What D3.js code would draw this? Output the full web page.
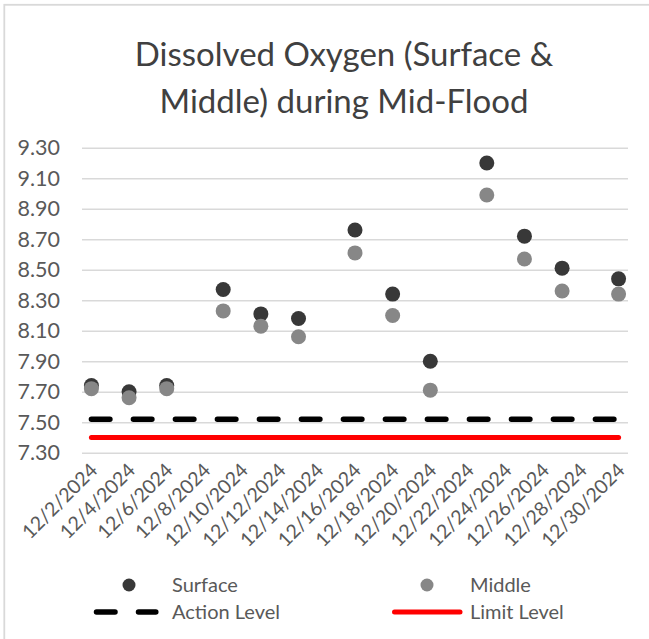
<!DOCTYPE html>
<html>
<head>
<meta charset="utf-8">
<script src="https://cdn.jsdelivr.net/npm/d3@7"></script>
<style>
  html, body { margin: 0; padding: 0; background: #fff; }
  svg { display: block; }
  text { font-family: Lato, "Open Sans", sans-serif; }
</style>
</head>
<body>
<svg id="chart" width="649" height="639"></svg>
<script>
// ---- data ----
const dates = ["2024-12-02","2024-12-04","2024-12-06","2024-12-09","2024-12-11","2024-12-13",
               "2024-12-16","2024-12-18","2024-12-20","2024-12-23","2024-12-25","2024-12-27","2024-12-30"];
const surface = [7.74, 7.70, 7.74, 8.37, 8.21, 8.18, 8.76, 8.34, 7.90, 9.20, 8.72, 8.51, 8.44];
const middle  = [7.72, 7.66, 7.72, 8.23, 8.13, 8.06, 8.61, 8.20, 7.71, 8.99, 8.57, 8.36, 8.34];
const actionLevel = 7.52;
const limitLevel = 7.40;
const yTicks = [7.30, 7.50, 7.70, 7.90, 8.10, 8.30, 8.50, 8.70, 8.90, 9.10, 9.30];
const xTickLabels = ["12/2/2024","12/4/2024","12/6/2024","12/8/2024","12/10/2024","12/12/2024","12/14/2024",
                     "12/16/2024","12/18/2024","12/20/2024","12/22/2024","12/24/2024","12/26/2024","12/28/2024","12/30/2024"];
const titleLines = ["Dissolved Oxygen (Surface &", "Middle) during Mid-Flood"];
const seriesNames = ["Surface", "Middle", "Action Level", "Limit Level"];

// ---- setup ----
const parse = d3.timeParse("%Y-%m-%d");
const parseLabel = d3.timeParse("%m/%d/%Y");
const dateObjs = dates.map(parse);
const tickDates = xTickLabels.map(parseLabel);

const svg = d3.select("#chart");
const plot = { left: 82, right: 628, top: 147.7, bottom: 452.7 };

const halfDay = 12 * 3600 * 1000;
const x = d3.scaleTime()
  .domain([new Date(+dateObjs[0] - halfDay), new Date(+dateObjs[dateObjs.length - 1] + halfDay)])
  .range([plot.left, plot.right]);
const y = d3.scaleLinear().domain([7.3, 9.3]).range([plot.bottom, plot.top]);

// chart border
svg.append("rect")
  .attr("x", 4.3).attr("y", 4.8).attr("width", 800).attr("height", 800)
  .attr("fill", "none").attr("stroke", "#d9d9d9").attr("stroke-width", 1.8);

// title
svg.append("text")
  .attr("x", 344).attr("y", 66)
  .attr("text-anchor", "middle")
  .attr("fill", "#404040")
  .style("font-size", "33px")
  .style("font-weight", 400)
  .selectAll("tspan").data(titleLines).join("tspan")
  .attr("x", 344).attr("dy", (d, i) => i === 0 ? 0 : 47)
  .text(d => d);

// gridlines + y axis
const yAxis = d3.axisLeft(y).tickValues(yTicks).tickFormat(d3.format(".2f")).tickSize(-(plot.right - plot.left)).tickPadding(22);
const gy = svg.append("g").attr("transform", `translate(${plot.left},0)`).call(yAxis);
gy.select(".domain").remove();
gy.selectAll(".tick line").attr("stroke", "#d9d9d9").attr("stroke-width", 1.5);
gy.selectAll(".tick text").attr("fill", "#595959").style("font-size", "21.5px").style("font-family", "Lato, sans-serif");

// x axis labels
const xAxis = d3.axisBottom(x).tickValues(tickDates).tickFormat(d3.timeFormat("%-m/%-d/%Y")).tickSize(0);
const gx = svg.append("g").attr("transform", `translate(0,${plot.bottom})`).call(xAxis);
gx.select(".domain").remove();
gx.selectAll(".tick text")
  .attr("fill", "#595959")
  .style("font-size", "19.5px")
  .style("font-family", "Lato, sans-serif")
  .attr("text-anchor", "end")
  .attr("dy", "0.35em")
  .attr("y", 0)
  .attr("transform", "translate(2,14) rotate(-45)");

// level lines
const line = d3.line().x(d => x(d[0])).y(d => y(d[1]));
const levelExtent = [dateObjs[0], dateObjs[dateObjs.length - 1]];
svg.append("path")
  .attr("d", line(levelExtent.map(d => [d, actionLevel])))
  .attr("fill", "none").attr("stroke", "#000").attr("stroke-width", 5.5)
  .attr("stroke-linecap", "round").attr("stroke-dasharray", "18.5,23.5");
svg.append("path")
  .attr("d", line(levelExtent.map(d => [d, limitLevel])))
  .attr("fill", "none").attr("stroke", "#ff0000").attr("stroke-width", 5)
  .attr("stroke-linecap", "round");

// points
svg.append("g").selectAll("circle").data(surface).join("circle")
  .attr("cx", (d, i) => x(dateObjs[i])).attr("cy", d => y(d)).attr("r", 7.5)
  .attr("fill", "#383838");
svg.append("g").selectAll("circle").data(middle).join("circle")
  .attr("cx", (d, i) => x(dateObjs[i])).attr("cy", d => y(d)).attr("r", 7.5)
  .attr("fill", "#878787");

// legend
const lg = svg.append("g");
lg.append("circle").attr("cx", 129).attr("cy", 585).attr("r", 6.5).attr("fill", "#383838");
lg.append("circle").attr("cx", 427).attr("cy", 585).attr("r", 6.5).attr("fill", "#878787");
lg.append("line").attr("x1", 96.5).attr("x2", 155.8).attr("y1", 612).attr("y2", 612)
  .attr("stroke", "#000").attr("stroke-width", 5.5).attr("stroke-linecap", "round").attr("stroke-dasharray", "18.5,23.5");
lg.append("line").attr("x1", 394.5).attr("x2", 460).attr("y1", 612).attr("y2", 612)
  .attr("stroke", "#ff0000").attr("stroke-width", 5).attr("stroke-linecap", "round");
const legendText = [[172, 585, seriesNames[0]], [470, 585, seriesNames[1]], [172, 612, seriesNames[2]], [470, 612, seriesNames[3]]];
lg.selectAll("text").data(legendText).join("text")
  .attr("x", d => d[0]).attr("y", d => d[1]).attr("dy", "0.35em")
  .attr("fill", "#595959").style("font-size", "20px")
  .text(d => d[2]);
</script>
</body>
</html>
